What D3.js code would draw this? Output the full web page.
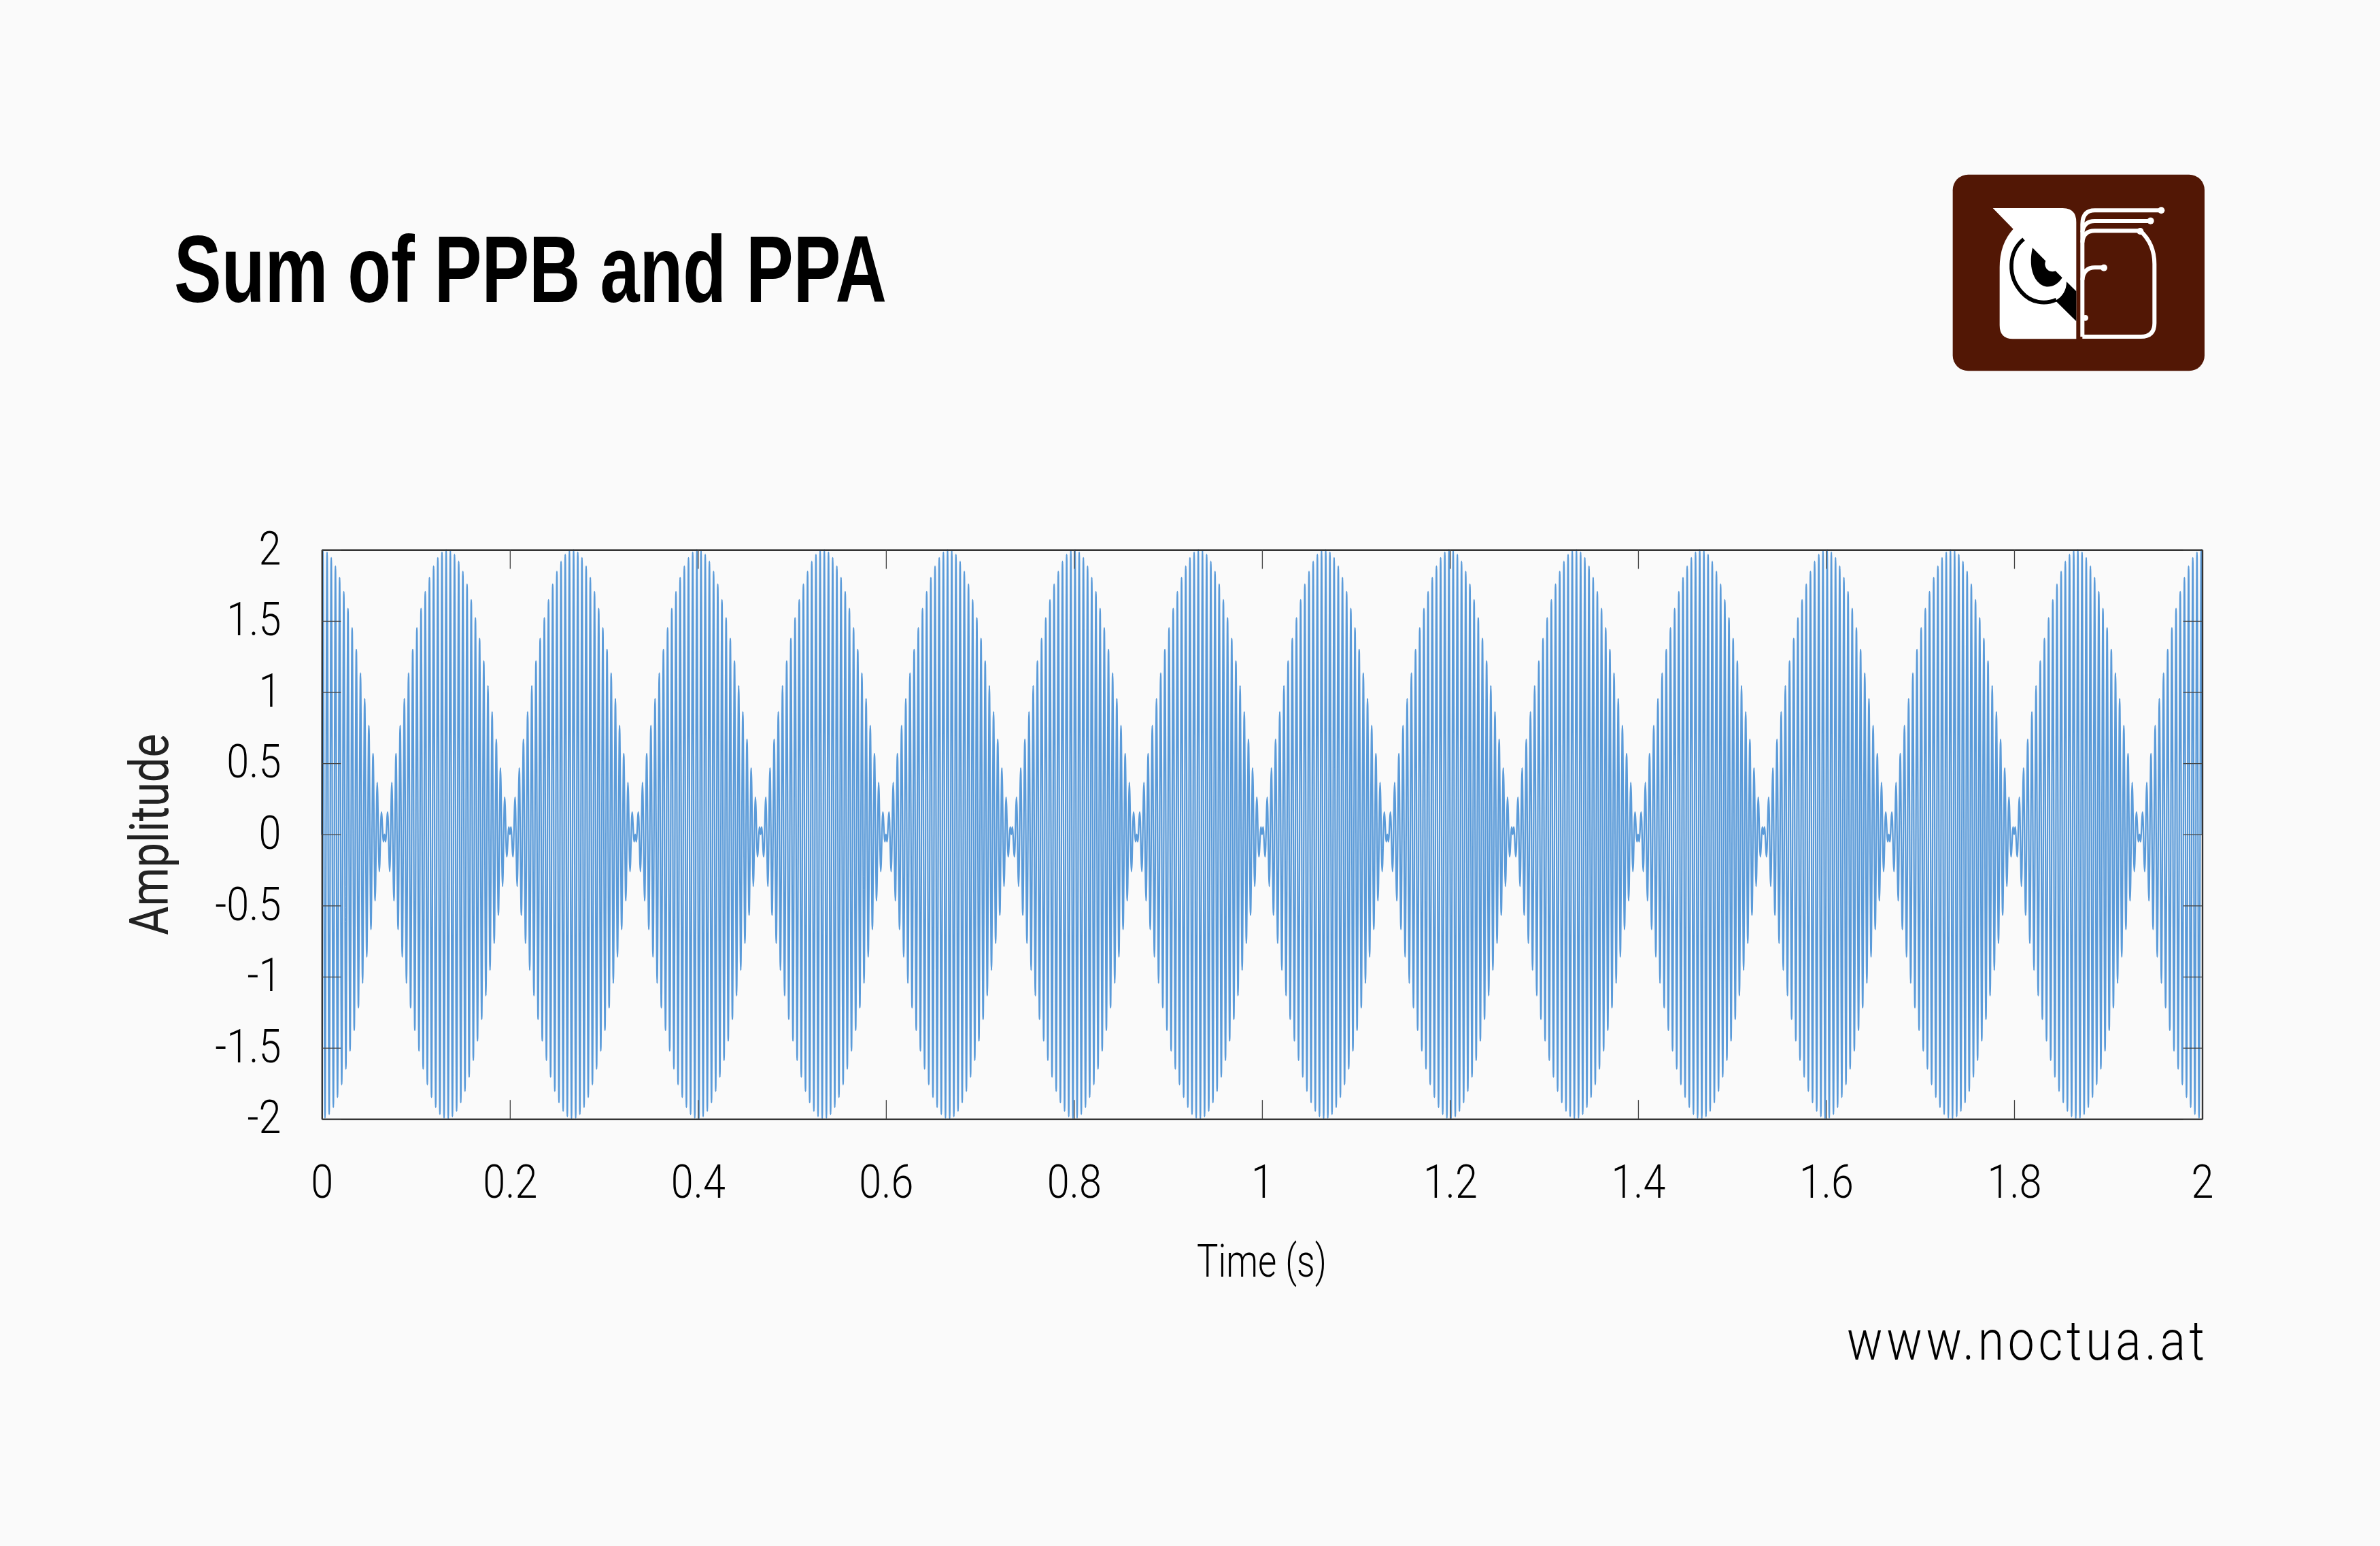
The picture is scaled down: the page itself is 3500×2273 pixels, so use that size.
<!DOCTYPE html>
<html><head><meta charset="utf-8">
<script src="https://cdn.jsdelivr.net/npm/d3@7/dist/d3.min.js"></script>
<style>html,body{margin:0;padding:0;background:#fafafa}svg{display:block}</style>
</head><body><svg id="c" width="3500" height="2273"></svg>
<script>
const xTicks=[0,0.2,0.4,0.6,0.8,1,1.2,1.4,1.6,1.8,2];
const yTicks=[-2,-1.5,-1,-0.5,0,0.5,1,1.5,2];
const titleText="Sum of PPB and PPA";
const xLabel="Time (s)";
const yLabel="Amplitude";
const siteText="www.noctua.at";
const halfCycleSeconds=1/450;
const durationSeconds=2;
// Signed swing extremes of one 0.2667 s beat; the plotted waveform repeats this beat.
const beatPeaks=[
1.999,-1.994,1.983,-1.967,1.945,-1.918,1.885,-1.848,1.805,-1.758,
1.705,-1.648,1.587,-1.521,1.451,-1.377,1.299,-1.218,1.133,-1.045,
0.954,-0.861,0.765,-0.668,0.568,-0.467,0.365,-0.261,0.157,-0.052,
-0.052,0.157,-0.261,0.365,-0.467,0.568,-0.668,0.765,-0.861,0.954,
-1.045,1.133,-1.218,1.299,-1.377,1.451,-1.521,1.587,-1.648,1.705,
-1.758,1.805,-1.848,1.885,-1.918,1.945,-1.967,1.983,-1.994,1.999,
-1.999,1.994,-1.983,1.967,-1.945,1.918,-1.885,1.848,-1.805,1.758,
-1.705,1.648,-1.587,1.521,-1.451,1.377,-1.299,1.218,-1.133,1.045,
-0.954,0.861,-0.765,0.668,-0.568,0.467,-0.365,0.261,-0.157,0.052,
0.052,-0.157,0.261,-0.365,0.467,-0.568,0.668,-0.765,0.861,-0.954,
1.045,-1.133,1.218,-1.299,1.377,-1.451,1.521,-1.587,1.648,-1.705,
1.758,-1.805,1.848,-1.885,1.918,-1.945,1.967,-1.983,1.994,-1.999];
const nullAfter=[29,89];

const svg=d3.select("#c");
svg.append("rect").attr("width",3500).attr("height",2273).attr("fill","#fafafa");
const L=473.3,R=3238.5,T=808.3,B=1645.2,TICK=28;
const x=d3.scaleLinear().domain([0,2]).range([L,R]);
const y=d3.scaleLinear().domain([-2,2]).range([B,T]);
const LIGHT='Roboto,"Liberation Sans",sans-serif';
const BOLD='"Liberation Sans",sans-serif';
const NARROW_X=0.86;
const SITE_X=0.86;

// series
const pts=[{t:0,v:0}];
const n=Math.round(durationSeconds/halfCycleSeconds);
for(let k=0;k<n;k++){
  const p=k%beatPeaks.length;
  pts.push({t:(k+0.5)*halfCycleSeconds,v:beatPeaks[p]});
  if(nullAfter.includes(p)) pts.push({t:(k+1)*halfCycleSeconds,v:0});
}
pts.push({t:durationSeconds,v:0});
svg.append("path").datum(pts)
  .attr("d",d3.line().x(d=>x(d.t)).y(d=>y(d.v)).curve(d3.curveMonotoneX))
  .attr("fill","none").attr("stroke","#5b9bd9").attr("stroke-width",2.3)
  .attr("stroke-linejoin","round").attr("stroke-linecap","round");

// axes (inward ticks on all four sides)
function styleAxis(g){
  g.selectAll(".domain").attr("stroke","#333").attr("stroke-width",2.4);
  g.selectAll(".tick line").attr("stroke","#444").attr("stroke-width",1.3);
  g.selectAll("text").attr("fill","#000").attr("font-family",LIGHT).attr("font-weight",300).attr("font-size",69);
}
const f=d=>String(d);
svg.append("g").attr("transform",`translate(0,${B})`)
  .call(d3.axisBottom(x).tickValues(xTicks).tickFormat(f).tickSizeInner(-TICK).tickSizeOuter(0).tickPadding(0))
  .call(styleAxis).call(g=>g.selectAll("text").attr("y",116).attr("dy",0).attr("transform",`scale(${NARROW_X},1)`));
svg.append("g").attr("transform",`translate(0,${T})`)
  .call(d3.axisTop(x).tickValues(xTicks).tickFormat("").tickSizeInner(-TICK).tickSizeOuter(0)).call(styleAxis);
svg.append("g").attr("transform",`translate(${L},0)`)
  .call(d3.axisLeft(y).tickValues(yTicks).tickFormat(f).tickSizeInner(-TICK).tickSizeOuter(0).tickPadding(0))
  .call(styleAxis).call(g=>g.selectAll("text").attr("x",-60/NARROW_X).attr("dy","0.3em").attr("transform",`scale(${NARROW_X},1)`));
svg.append("g").attr("transform",`translate(${R},0)`)
  .call(d3.axisRight(y).tickValues(yTicks).tickFormat("").tickSizeInner(-TICK).tickSizeOuter(0)).call(styleAxis);

// texts
svg.append("text").text(titleText).attr("x",256).attr("y",443.7)
  .attr("font-family",BOLD).attr("font-weight",700).attr("font-size",140).attr("fill","#000")
  .attr("textLength",1048).attr("lengthAdjust","spacingAndGlyphs");
svg.append("text").text(xLabel).attr("x",1760).attr("y",1877)
  .attr("font-family",LIGHT).attr("font-weight",300).attr("font-size",66).attr("fill","#000")
  .attr("textLength",191).attr("lengthAdjust","spacingAndGlyphs");
svg.append("text").text(yLabel).attr("transform","translate(247.3,1375) rotate(-90)")
  .attr("font-family",LIGHT).attr("font-weight",400).attr("font-size",80).attr("fill","#222")
  .attr("textLength",296).attr("lengthAdjust","spacingAndGlyphs");
svg.append("text").text(siteText).attr("transform",`translate(2716,1999) scale(${SITE_X},1)`)
  .attr("font-family",LIGHT).attr("font-weight",300).attr("font-size",81).attr("fill","#000")
  .attr("textLength",526/SITE_X).attr("lengthAdjust","spacing");

// logo, drawn in 3x crop coordinates
const logo=svg.append("g").attr("transform","translate(2840,230) scale(0.33333)");
logo.append("rect").attr("x",95).attr("y",80).attr("width",1111).attr("height",866).attr("rx",68).attr("fill","#521705");
logo.append("path").attr("fill","#fff").attr("d","M272,228 L580,228 Q640,228 640,290 L640,805 L360,805 Q302,805 302,745 L302,490 Q302,385 362,320 Z");
logo.append("path").attr("fill","none").attr("stroke","#000").attr("stroke-width",17)
  .attr("d","M408,365 C340,420 335,530 400,600 C440,645 500,655 552,632");
logo.append("path").attr("fill","#000").attr("d","M597,552 L640,595 L640,727 L548,636 C580,618 597,590 597,552 Z");
logo.append("path").attr("fill","#000").attr("d","M447,403 L578,535 C560,565 530,578 505,574 C460,565 425,500 447,403 Z");
logo.append("circle").attr("cx",535).attr("cy",475).attr("r",33).attr("fill","#fff");
const wire=logo.append("g").attr("fill","none").attr("stroke","#fff").attr("stroke-width",18);
wire.append("path").attr("d","M667,795 L667,300 Q667,238 722,238 L1015,238");
wire.append("path").attr("d","M667,335 Q672,285 722,285 L968,285");
wire.append("path").attr("d","M667,380 Q670,328 722,328 L922,328 Q985,385 985,475 L985,735 Q985,795 925,795 L667,795");
wire.append("path").attr("d","M667,545 Q672,490 722,490 L762,490");
[[1015,238,15],[968,284,15],[922,330,15],[762,491,15],[680,712,13]].forEach(c=>
  logo.append("circle").attr("cx",c[0]).attr("cy",c[1]).attr("r",c[2]).attr("fill","#fff"));
</script></body></html>
